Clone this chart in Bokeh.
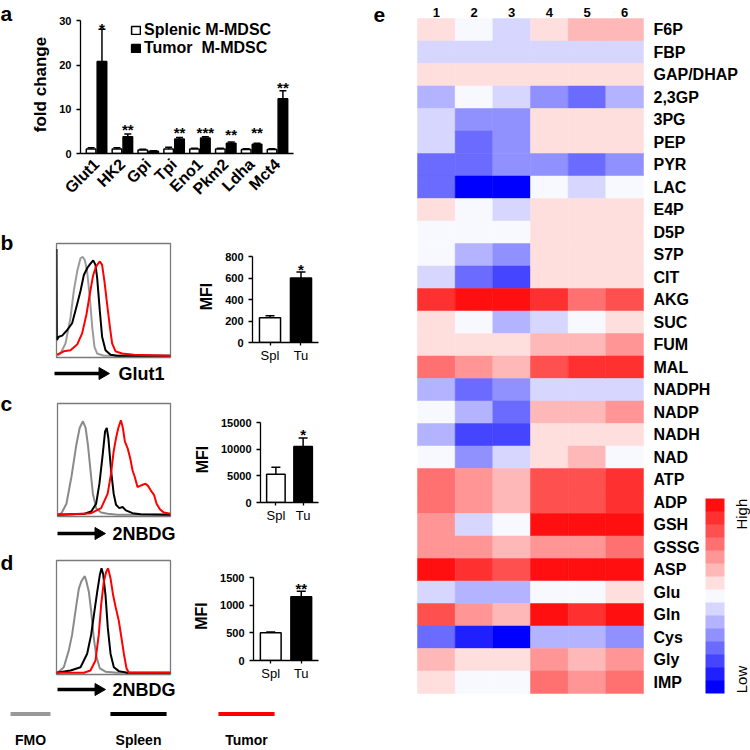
import math
from bokeh.plotting import figure
from bokeh.models import (ColumnDataSource, FactorRange, Range1d, Whisker, TeeHead, Legend,
                          LegendItem, ColorBar, LinearColorMapper, FixedTicker)
from bokeh.layouts import row, column
from bokeh.transform import dodge, transform
from bokeh.core.properties import value
from bokeh.embed import file_html
from bokeh.resources import INLINE

FONT = "Liberation Sans"

# ---------------- panel a data ----------------
genes = ["Glut1", "HK2", "Gpi", "Tpi", "Eno1", "Pkm2", "Ldha", "Mct4"]
splenic_fc = [1.0, 1.0, 0.8, 1.0, 1.0, 1.0, 0.9, 0.9]
splenic_err = [0.3, 0.3, 0.15, 0.4, 0.2, 0.2, 0.2, 0.2]
tumor_fc = [20.8, 3.8, 0.5, 3.3, 3.5, 2.3, 2.1, 12.4]
tumor_err = [7.3, 0.6, 0.1, 0.3, 0.3, 0.3, 0.2, 1.8]
stars_a = ["*", "**", "", "**", "***", "**", "**", "**"]
stars_a_level = [28.3, 5.5, 0, 4.85, 4.85, 4.2, 4.85, 15.0]
fold_ticks = [0, 10, 20, 30]
legend_a = ["Splenic M-MDSC", "Tumor  M-MDSC"]

# ---------------- MFI bar data ----------------
mfi_groups = ["Spl", "Tu"]
mfi_b = [230, 600]
mfi_b_err = [20, 55]
mfi_b_ticks = [0, 200, 400, 600, 800]
stars_b = ["", "*"]
mfi_c = [5300, 10500]
mfi_c_err = [1300, 1600]
mfi_c_ticks = [0, 5000, 10000, 15000]
stars_c = ["", "*"]
mfi_d = [500, 1150]
mfi_d_err = [15, 100]
mfi_d_ticks = [0, 500, 1000, 1500]
stars_d = ["", "**"]

# ---------------- histogram data (% of box) ----------------
b_fmo_x = [0, 3.5, 7.9, 12.3, 15.2, 18.1, 21.1, 23.1, 24.9, 26.9, 29.2, 31.3, 33.3, 35.7, 41.5, 100]
b_fmo_y = [0, 2, 11, 34, 58, 75, 87, 88, 85, 75, 52, 26, 8, 2, 0, 0]
b_spl_x = [0, 0.3, 2, 5, 9.4, 13.7, 18.1, 21.1, 24, 26.9, 29.8, 32.2, 34.2, 35.7, 38, 40, 43, 47.4, 53.2, 100]
b_spl_y = [95, 14, 17, 18, 23, 29, 46, 58, 72, 78, 82, 85, 81, 69, 40, 17, 5, 1, 0, 0]
b_tum_x = [0.6, 6.4, 12.3, 18.1, 22.5, 26.3, 29.2, 32.2, 34.2, 35.7, 38, 40, 42.1, 44.4, 46.8, 48.8, 51.8, 57.6, 67.8, 100]
b_tum_y = [1, 4, 5, 10, 20, 37, 55, 72, 78, 81, 84, 81, 66, 46, 26, 11, 4, 2, 1, 0]

c_fmo_x = [0, 3.5, 7.9, 12.3, 16.7, 19.6, 22.5, 24.9, 26.9, 29.2, 31.3, 34.2, 38.6, 44.4, 53.2, 100]
c_fmo_y = [0, 1.5, 10, 34, 63, 78, 84, 78, 63, 40, 19, 6, 2, 1, 0, 0]
c_spl_x = [0, 24, 29.8, 34.2, 37.1, 40, 42.1, 43.6, 45, 47.4, 49.7, 51.8, 54.7, 57.6, 60.5, 66.4, 73.7, 100]
c_spl_y = [0, 1, 3, 10, 28, 54, 75, 78, 69, 40, 19, 9, 6, 7, 4, 1.5, 0.5, 0]
c_tum_x = [0, 12.3, 29.8, 38.6, 44.4, 47.4, 49.7, 51.8, 53.8, 56.1, 57.9, 59.6, 62, 64.3, 66.4, 68.4,
           70.8, 73.1, 75.4, 77.8, 80.1, 82.5, 85.4, 87.7, 90.6, 94.2, 100]
c_tum_y = [0, 0.5, 1.5, 6, 19, 37, 57, 69, 78, 85, 78, 66, 60, 51, 40, 34,
           25, 26, 27, 28, 26, 22, 18, 10, 5, 2, 1]

d_fmo_x = [0, 2, 6.4, 10.8, 13.7, 15.8, 17.5, 19.6, 21.6, 23.4, 24.9, 26.3, 28.4, 30.4, 32.7, 35.1, 38, 43, 53.2, 100]
d_fmo_y = [0, 1, 5, 20, 34, 49, 61, 75, 81, 84, 86, 81, 72, 55, 31, 14, 4, 1, 0, 0]
d_spl_x = [0, 12.3, 21.1, 26.9, 30.4, 33.3, 35.7, 38, 39.5, 40.9, 43, 45, 47.4, 50.3, 54.7, 62, 100]
d_spl_y = [0, 2, 5, 17, 34, 55, 72, 87, 93, 88, 69, 40, 17, 5, 1.5, 0, 0]
d_tum_x = [0, 24, 29.8, 34.2, 37.1, 39.2, 41.5, 43.6, 45.3, 47.4, 49.7, 52, 54.7, 57, 59.1, 61.4, 63.5, 100]
d_tum_y = [0, 0, 2, 11, 34, 61, 81, 90, 93, 84, 69, 58, 46, 31, 17, 4, 0, 0]

legend_names = ["FMO", "Spleen", "Tumor"]
legend_colors = ["#999999", "#000000", "#ff0000"]
panel_letters = ["a", "b", "c", "d"]

# ---------------- heatmap data ----------------
metabolites = ["F6P", "FBP", "GAP/DHAP", "2,3GP", "3PG", "PEP", "PYR", "LAC", "E4P", "D5P",
               "S7P", "CIT", "AKG", "SUC", "FUM", "MAL", "NADPH", "NADP", "NADH", "NAD",
               "ATP", "ADP", "GSH", "GSSG", "ASP", "Glu", "Gln", "Cys", "Gly", "IMP"]
samples = ["1", "2", "3", "4", "5", "6"]
s1 = [1, -1, 1, -2, -1, -1, -4, -4, 1, 0, 0, -1, 6, 1, 1, 4, -2, 0, -2, 0, 4, 4, 3, 3, 7, -1, 5, -4, 2, 1]
s2 = [0, -1, 1, 0, -3, -4, -4, -7, 0, 0, -2, -4, 7, 0, 1, 3, -4, -2, -5, -3, 3, 3, -1, 3, 6, -2, 3, -6, 1, 0]
s3 = [-1, -1, 1, -1, -3, -3, -3, -7, -1, 0, -3, -5, 7, -2, 1, 2, -3, -4, -5, -1, 2, 2, 0, 2, 5, -2, 2, -7, 1, 0]
s4 = [1, -1, 1, -3, 1, 1, -3, 0, 1, 1, 1, 1, 6, -1, 2, 5, -1, 2, 1, 1, 5, 5, 7, 3, 7, 0, 7, -2, 3, 4]
s5 = [2, -1, 1, -4, 1, 1, -4, -1, 1, 1, 1, 1, 4, 0, 2, 6, -1, 2, 1, 2, 5, 5, 7, 3, 7, 0, 6, -2, 2, 3]
s6 = [2, -1, 1, -2, 1, 1, -3, 0, 1, 1, 1, 1, 5, 1, 3, 6, -1, 3, 1, 0, 6, 6, 7, 4, 7, 1, 7, -3, 3, 4]
heat_palette = ["#0000ff", "#2020ff", "#4545ff", "#6b6bff", "#9090ff", "#b3b3ff", "#d6d6ff", "#f8f8ff",
                "#ffdede", "#ffb8b8", "#ff9595", "#ff7070", "#ff5050", "#ff3030", "#ff0f0f"]
scale_ends = ["High", "Low"]


def base_fig(width, height, xr, yr, left=0, right=0, top=0, bottom=0, **kw):
    p = figure(width=width, height=height, x_range=xr, y_range=yr, output_backend="svg",
               toolbar_location=None, min_border_left=left, min_border_right=right,
               min_border_top=top, min_border_bottom=bottom, **kw)
    try:
        p.frame_align = False
    except AttributeError:
        pass
    p.grid.visible = False
    p.outline_line_color = None
    p.background_fill_color = "white"
    p.border_fill_color = "white"
    return p


def style_axis(ax, size="11px", bold=True):
    ax.major_label_text_font = FONT
    ax.major_label_text_font_size = size
    ax.major_label_text_font_style = "bold" if bold else "normal"
    ax.major_label_text_color = "black"
    ax.axis_line_color = "black"
    ax.axis_line_width = 1.3
    ax.major_tick_line_color = "black"
    ax.major_tick_line_width = 1.3
    ax.minor_tick_line_color = None
    ax.major_tick_in = 0
    ax.major_tick_out = 4
    ax.axis_label_text_font = FONT
    ax.axis_label_text_font_style = "bold"
    ax.axis_label_text_color = "black"


def txt(p, **kw):
    kw.setdefault("text_color", "black")
    p.text(text_font=value(FONT), **kw)


# ================= panel letters (strip at far left) =================
letters = base_fig(20, 700, Range1d(0, 20), Range1d(700, 0), x_axis_location=None, y_axis_location=None)
txt(letters, x=[0] * 4, y=[13, 242, 403, 562], text=panel_letters, text_align="left",
    text_baseline="alphabetic", text_font_size="21px", text_font_style="bold")

# ================= panel a =================
src_a = ColumnDataSource(dict(
    gene=genes, spl=splenic_fc, tum=tumor_fc,
    spl_top=[v + e for v, e in zip(splenic_fc, splenic_err)],
    tum_top=[v + e for v, e in zip(tumor_fc, tumor_err)],
    stars=stars_a, star_y=stars_a_level))
pa = base_fig(300, 225, FactorRange(factors=genes, range_padding=0.12, range_padding_units="absolute"),
              Range1d(0, 31.2), 60, 27, 15, 72)
r_spl = pa.vbar(x=dodge("gene", -0.21, range=pa.x_range), top="spl", width=0.37, source=src_a,
                fill_color="white", line_color="black", line_width=1.5)
r_tum = pa.vbar(x=dodge("gene", 0.21, range=pa.x_range), top="tum", width=0.37, source=src_a,
                fill_color="black", line_color="black", line_width=1.5)
for col, top, dx in (("spl", "spl_top", -0.21), ("tum", "tum_top", 0.21)):
    pa.add_layout(Whisker(base=dodge("gene", dx, range=pa.x_range), lower=col, upper=top, source=src_a,
                          lower_head=None, upper_head=TeeHead(size=7, line_width=1.5),
                          line_width=1.5, line_color="black"))
txt(pa, x=dodge("gene", 0.21, range=pa.x_range), y="star_y", text="stars", source=src_a,
    text_align="center", text_baseline="alphabetic",
    text_font_size="15px", text_font_style="bold")
style_axis(pa.yaxis[0], "11px")
pa.yaxis.ticker = FixedTicker(ticks=fold_ticks)
pa.yaxis.bounds = (0, 30)
pa.yaxis.axis_label = "fold change"
pa.yaxis.axis_label_text_font_size = "17px"
pa.yaxis.axis_label_standoff = 6
style_axis(pa.xaxis[0], "16px")
pa.xaxis.major_label_orientation = math.pi / 4
pa.xaxis.major_tick_out = 0
pa.xaxis.major_label_standoff = 8
for label, rend, ypos in ((legend_a[0], r_spl, 114), (legend_a[1], r_tum, 96)):
    pa.add_layout(Legend(items=[LegendItem(label=label, renderers=[rend])],
                         location=(50, ypos), padding=0, margin=0, spacing=0, glyph_width=11,
                         glyph_height=10, label_standoff=3, border_line_color=None,
                         background_fill_alpha=0, label_text_font=FONT, label_text_font_size="16px",
                         label_text_font_style="bold", label_text_color="black"), "center")


# ================= histograms =================
def make_hist(curves, grey, height, top, frame_h, left, width_frame):
    p = base_fig(170, height, Range1d(0, 100), Range1d(-1.5, 100), left, 170 - left - width_frame, top,
                 height - top - frame_h, x_axis_location=None, y_axis_location=None)
    p.outline_line_color = "#7a7a7a"
    p.outline_line_width = 1.3
    (fx, fy), (sx, sy), (tx, ty) = curves
    p.line(fx, fy, line_color=grey, line_width=2)
    p.line(sx, sy, line_color="black", line_width=2)
    p.line(tx, ty, line_color="#ff0000", line_width=2)
    return p


def make_marker(label, y_bottom, h, ym, x0, x1, tx):
    # strip below a histogram, in page-pixel coordinates
    p = base_fig(170, h, Range1d(20, 190), Range1d(y_bottom, y_bottom - h),
                 x_axis_location=None, y_axis_location=None)
    p.segment(x0=[x0], y0=[ym], x1=[x1 - 8], y1=[ym], line_color="black", line_width=3.5)
    p.scatter(x=[x1 - 5], y=[ym], marker="triangle", size=12, angle=-math.pi / 2,
              fill_color="black", line_color="black")
    txt(p, x=[tx], y=[ym], text=[label], text_baseline="middle", text_align="left",
        text_font_size="18px", text_font_style="bold")
    return p


hb = make_hist([(b_fmo_x, b_fmo_y), (b_spl_x, b_spl_y), (b_tum_x, b_tum_y)], "#9b9b9b", 137, 18, 114, 36, 114)
hc = make_hist([(c_fmo_x, c_fmo_y), (c_spl_x, c_spl_y), (c_tum_x, c_tum_y)], "#8a8a8a", 137, 18, 113, 37, 113)
hd = make_hist([(d_fmo_x, d_fmo_y), (d_spl_x, d_spl_y), (d_tum_x, d_tum_y)], "#8a8a8a", 132, 15, 114, 36, 114)
ab = make_marker("Glut1", 385, 23, 373, 54, 107, 118)
ac = make_marker("2NBDG", 545, 23, 533, 57, 103, 112)
ad = make_marker("2NBDG", 700, 23, 689, 57, 103, 112)


# ================= MFI bars =================
def make_mfi(vals, errs, stars, ticks, height, row_top, frame_top, tick_px, zero_px):
    pxu = (zero_px - tick_px) / ticks[-1]
    end = ticks[-1] + (tick_px - frame_top) / pxu
    top_b = frame_top - row_top
    frame_h = zero_px - frame_top
    src = ColumnDataSource(dict(g=mfi_groups, v=vals, top=[a + b for a, b in zip(vals, errs)],
                                s=stars, fill=["white", "black"]))
    p = base_fig(130, height, FactorRange(factors=mfi_groups, range_padding=0.065,
                                          range_padding_units="absolute"),
                 Range1d(0, end), 62, 2, top_b, height - top_b - frame_h)
    p.vbar(x="g", top="v", width=0.68, source=src, fill_color="fill", line_color="black", line_width=1.5)
    p.add_layout(Whisker(base="g", lower="v", upper="top", source=src, lower_head=None,
                         upper_head=TeeHead(size=9, line_width=1.5), line_width=1.5, line_color="black"))
    txt(p, x="g", y="top", text="s", source=src, text_align="center", text_baseline="alphabetic",
        y_offset=-3, text_font_size="15px", text_font_style="bold")
    style_axis(p.yaxis[0], "11px")
    p.yaxis.ticker = FixedTicker(ticks=ticks)
    p.yaxis.bounds = (0, ticks[-1])
    p.yaxis.axis_label = "MFI"
    p.yaxis.axis_label_text_font_size = "16px"
    p.yaxis.axis_label_standoff = 7
    style_axis(p.xaxis[0], "13px", bold=False)
    p.xaxis.major_tick_out = 3
    p.xaxis.major_label_standoff = 2
    return p


mb = make_mfi(mfi_b, mfi_b_err, stars_b, mfi_b_ticks, 160, 225, 250, 256, 342)
mc = make_mfi(mfi_c, mfi_c_err, stars_c, mfi_c_ticks, 160, 385, 416, 422, 502)
md = make_mfi(mfi_d, mfi_d_err, stars_d, mfi_d_ticks, 155, 545, 571, 577, 660)

# ================= bottom legend (full left width) =================
pl = base_fig(320, 50, Range1d(-30 / 108, 290 / 108), Range1d(-1, 1), 0, 0, 0, 20, y_axis_location=None)
half = [0.185, 0.26, 0.26]
pos = list(range(len(legend_names)))
pl.segment(x0=[p_ - h for p_, h in zip(pos, half)], x1=[p_ + h for p_, h in zip(pos, half)],
           y0=[0] * 3, y1=[0] * 3, line_color=legend_colors, line_width=4)
style_axis(pl.xaxis[0], "14px")
pl.xaxis.ticker = FixedTicker(ticks=pos)
pl.xaxis.major_label_overrides = {i: n for i, n in zip(pos, legend_names)}
pl.xaxis.axis_line_color = None
pl.xaxis.major_tick_line_color = None
pl.xaxis.major_tick_out = 0
pl.xaxis.major_label_standoff = 4

# ================= heatmap =================
hx, hy, hv = [], [], []
for i, colvals in enumerate([s1, s2, s3, s4, s5, s6]):
    for m, v in zip(metabolites, colvals):
        hx.append(i + 0.5)
        hy.append(m)
        hv.append(v)
src_e = ColumnDataSource(dict(x=hx, y=hy, v=hv))
mapper = LinearColorMapper(palette=heat_palette, low=-7.5, high=7.5)
cell = 226 / 6
pe = base_fig(430, 750, Range1d(-97 / cell, 6 + 107 / cell),
              FactorRange(factors=list(reversed(metabolites)), range_padding=0.8,
                          range_padding_units="absolute"),
              0, 0, 0, 39, x_axis_location=None, y_axis_location=None)
pe.rect(x="x", y="y", width=1, height=1, source=src_e, fill_color=transform("v", mapper),
        line_color=transform("v", mapper), line_width=0.5)
# column labels
txt(pe, x=[i + 0.5 for i in range(len(samples))], y=[metabolites[0]] * len(samples), text=samples,
    y_offset=-17.5, text_align="center", text_baseline="alphabetic", text_font_size="13px",
    text_font_style="bold")
# row labels
txt(pe, x=[len(samples)] * len(metabolites), y=metabolites, text=metabolites, x_offset=10,
    text_align="left", text_baseline="middle", text_font_size="16px", text_font_style="bold")
# panel letter e
txt(pe, x=[-44 / cell], y=[metabolites[0]], text=["e"], y_offset=-15, text_align="left",
    text_baseline="alphabetic", text_font_size="21px", text_font_style="bold")
cb = ColorBar(color_mapper=mapper, location=(385, 18), width=19, height=195, padding=0, margin=0,
              ticker=FixedTicker(ticks=[]), major_tick_line_color=None, minor_tick_line_color=None,
              major_label_text_font_size="0px", bar_line_color=None, border_line_color=None,
              background_fill_alpha=0, label_standoff=0)
pe.add_layout(cb, "center")
txt(pe, x=[6 + 98 / cell], y=["ADP"], text=[scale_ends[0]], y_offset=-3.5, angle=math.pi / 2,
    text_align="right", text_baseline="middle", text_font_size="15px")
txt(pe, x=[6 + 98 / cell], y=["IMP"], text=[scale_ends[1]], y_offset=11, angle=math.pi / 2,
    text_align="left", text_baseline="middle", text_font_size="15px")

upper_left = column(pa, row(column(hb, ab), mb), row(column(hc, ac), mc), row(column(hd, ad), md))
left_block = column(row(letters, upper_left), pl)
layout = row(left_block, pe)
open("out.html", "w").write(file_html(layout, INLINE))
